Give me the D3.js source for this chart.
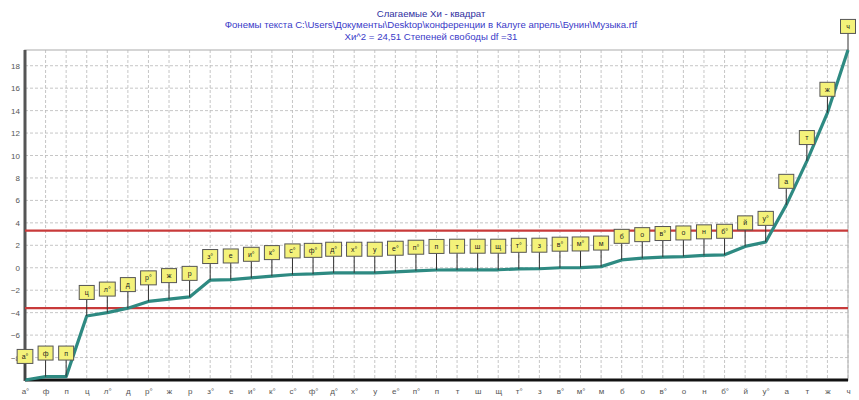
<!DOCTYPE html>
<html>
<head>
<meta charset="utf-8">
<script src="https://cdn.jsdelivr.net/npm/d3@7"></script>
<style>
  html, body { margin: 0; padding: 0; background: #fff; }
  svg { display: block; font-family: "Liberation Sans", Arial, sans-serif; }
</style>
</head>
<body>
<svg id="chart" width="859" height="400"></svg>
<script>
// Phonemes, sorted by their chi-square term
const phonemes = ["а°","ф","п","ц","л°","д","р°","ж","р","з°","е","и°","к°","с°","ф°","д°","х°","у","е°","п°",
                  "п","т","ш","щ","т°","з","в°","м°","м","б","о","в°","о","н","б°","й","у°","а","т","ж","ч"];
const terms = [-10.0,-9.7,-9.7,-4.3,-4.0,-3.6,-3.0,-2.8,-2.6,-1.1,-1.05,-0.9,-0.75,-0.6,-0.55,-0.45,-0.45,-0.45,-0.36,-0.27,
               -0.2,-0.18,-0.18,-0.18,-0.1,-0.09,0.0,0.02,0.1,0.7,0.85,0.95,1.0,1.1,1.15,1.9,2.3,5.6,9.5,13.8,19.4];
const yTicks = [-8,-6,-4,-2,0,2,4,6,8,10,12,14,16,18];
const limits = [3.3, -3.6];
const titleLines = [
  "Слагаемые Хи - квадрат",
  "Фонемы текста C:\\Users\\Документы\\Desktop\\конференции в Калуге апрель\\Бунин\\Музыка.rtf",
  "Хи^2 = 24,51  Степеней свободы  df =31"
];

const svg = d3.select("#chart");
const plotL = 25, plotR = 848, plotT = 50, plotB = 380;

const x = d3.scalePoint().domain(d3.range(phonemes.length)).range([plotL, plotR]);
const y = d3.scaleLinear().domain([d3.min(terms), d3.max(terms)]).range([plotB, plotT]);

// titles
svg.selectAll("text.title").data(titleLines).join("text")
  .attr("class", "title")
  .attr("x", 431).attr("y", (d, i) => 17 + i * 11.3)
  .attr("text-anchor", "middle")
  .attr("font-size", 9.6)
  .attr("fill", (d, i) => i === 0 ? "#2f2fa0" : "#3a3ac8")
  .text(d => d);

// frame
svg.append("rect").attr("x", plotL).attr("y", plotT).attr("width", plotR - plotL).attr("height", plotB - plotT)
  .attr("fill", "#fff").attr("stroke", "#c8c8c8").attr("stroke-width", 1.5);

// grid
const grid = svg.append("g").attr("stroke", "#b8b8b8").attr("stroke-width", 0.8).attr("stroke-dasharray", "3,2");
grid.selectAll("line.v").data(d3.range(phonemes.length)).join("line")
  .attr("x1", d => x(d)).attr("x2", d => x(d)).attr("y1", plotT).attr("y2", plotB);
grid.selectAll("line.h").data(yTicks).join("line")
  .attr("x1", plotL).attr("x2", plotR).attr("y1", d => y(d)).attr("y2", d => y(d));

// y axis
const yAxis = svg.append("g").attr("transform", `translate(${plotL},0)`)
  .call(d3.axisLeft(y).tickValues(yTicks).tickSize(0).tickPadding(5));
yAxis.select(".domain").remove();
yAxis.selectAll("text").attr("font-size", 8).attr("fill", "#555").attr("font-family", "Liberation Sans, Arial, sans-serif");
svg.append("line").attr("x1", plotL).attr("x2", plotL).attr("y1", plotT).attr("y2", plotB + 1)
  .attr("stroke", "#555").attr("stroke-width", 3);

// x axis
const xAxis = svg.append("g").attr("transform", `translate(0,${plotB})`)
  .call(d3.axisBottom(x).tickSize(0).tickPadding(8).tickFormat(i => phonemes[i]));
xAxis.select(".domain").remove();
xAxis.selectAll("text").attr("font-size", 8).attr("fill", "#555").attr("font-family", "Liberation Sans, Arial, sans-serif");
svg.append("line").attr("x1", plotL).attr("x2", plotR).attr("y1", plotB).attr("y2", plotB)
  .attr("stroke", "#111").attr("stroke-width", 3);

// critical limits
svg.selectAll("line.limit").data(limits).join("line")
  .attr("class", "limit")
  .attr("x1", plotL).attr("x2", plotR).attr("y1", d => y(d)).attr("y2", d => y(d))
  .attr("stroke", "#c83a3a").attr("stroke-width", 2.2);

// the curve
svg.append("path").datum(terms)
  .attr("fill", "none").attr("stroke", "#2e8a82").attr("stroke-width", 3.2)
  .attr("stroke-linejoin", "round")
  .attr("d", d3.line().x((d, i) => x(i)).y(d => y(d)));

// labels with stems
const boxOffset = 2.1;
const lab = svg.append("g").selectAll("g").data(terms).join("g");
lab.append("line")
  .attr("x1", (d, i) => x(i)).attr("x2", (d, i) => x(i))
  .attr("y1", d => y(d + boxOffset) + 7).attr("y2", d => y(d))
  .attr("stroke", "#333").attr("stroke-width", 1);
lab.each(function (d, i) {
  const g = d3.select(this);
  const cy = y(d + boxOffset);
  const t = g.append("text")
    .attr("x", x(i)).attr("y", cy + 2.5)
    .attr("text-anchor", "middle").attr("font-size", 7).attr("fill", "#222")
    .text(phonemes[i]);
  const w = Math.max(15, t.node().getComputedTextLength() + 9);
  g.insert("rect", "text")
    .attr("x", x(i) - w / 2).attr("y", cy - 7).attr("width", w).attr("height", 14)
    .attr("fill", "#f4f27a").attr("stroke", "#555").attr("stroke-width", 1);
});
</script>
</body>
</html>
